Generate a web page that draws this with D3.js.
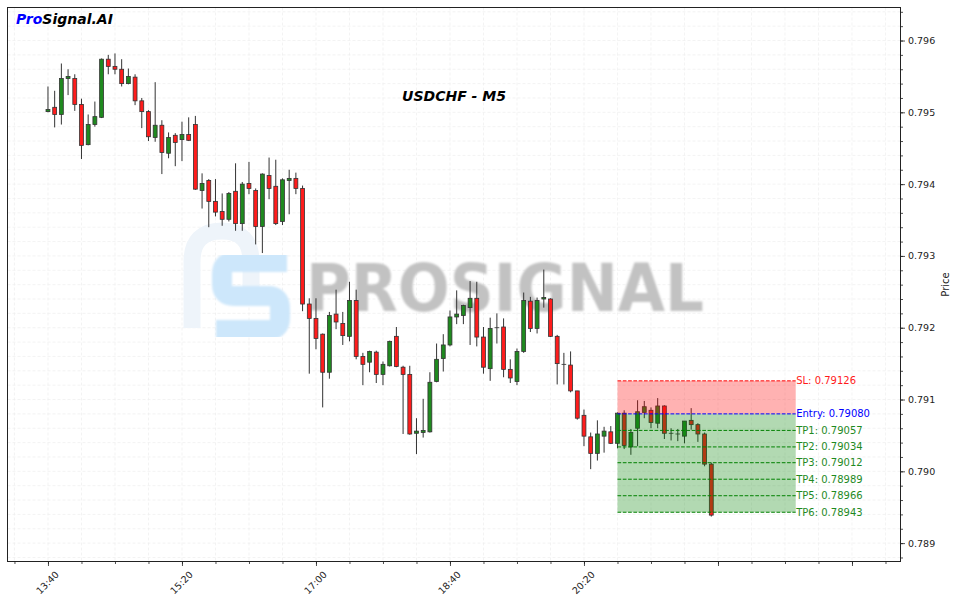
<!DOCTYPE html>
<html>
<head>
<meta charset="utf-8">
<script src="https://cdn.jsdelivr.net/npm/d3@7"></script>
<style>
  body { margin: 0; background: #fff; }
  svg { display: block; font-family: "DejaVu Sans", sans-serif; }
</style>
</head>
<body>
<svg id="chart" width="956" height="603"></svg>
<script>
// USDCHF M5 candles, first candle at 13:40, one every 5 minutes
const opens = [
  0.79501, 0.79507, 0.79497, 0.79547, 0.79547, 0.79511, 0.79455, 0.79483, 0.79493, 0.79574,
  0.79564, 0.79560, 0.79540, 0.79549, 0.79516, 0.79501, 0.79465, 0.79482, 0.79443, 0.79468,
  0.79462, 0.79469, 0.79483, 0.79391, 0.79405, 0.79376, 0.79362, 0.79351, 0.79390, 0.79345,
  0.79401, 0.79391, 0.79341, 0.79412, 0.79397, 0.79348, 0.79405, 0.79408, 0.79394, 0.79233,
  0.79213, 0.79191, 0.79138, 0.79219, 0.79206, 0.79188, 0.79238, 0.79160, 0.79152, 0.79166,
  0.79135, 0.79147, 0.79188, 0.79145, 0.79135, 0.79053, 0.79054, 0.79055, 0.79125, 0.79157,
  0.79176, 0.79215, 0.79217, 0.79228, 0.79241, 0.79187, 0.79143, 0.79200, 0.79201, 0.79142,
  0.79125, 0.79167, 0.79237, 0.79199, 0.79240, 0.79240, 0.79188, 0.79149, 0.79148, 0.79112,
  0.79078, 0.79048, 0.79025, 0.79049, 0.79055, 0.79039, 0.79081, 0.79034, 0.79060, 0.79082,
  0.79085, 0.79067, 0.79091, 0.79053, 0.79052, 0.79049, 0.79071, 0.79065, 0.79052, 0.79010
];
const highs = [
  0.79536, 0.79530, 0.79568, 0.79560, 0.79553, 0.79519, 0.79497, 0.79515, 0.79575, 0.79580,
  0.79582, 0.79574, 0.79561, 0.79553, 0.79520, 0.79503, 0.79542, 0.79489, 0.79472, 0.79471,
  0.79487, 0.79493, 0.79495, 0.79415, 0.79407, 0.79407, 0.79387, 0.79389, 0.79429, 0.79403,
  0.79431, 0.79394, 0.79415, 0.79437, 0.79434, 0.79408, 0.79420, 0.79416, 0.79398, 0.79241,
  0.79241, 0.79192, 0.79222, 0.79253, 0.79222, 0.79264, 0.79253, 0.79165, 0.79168, 0.79168,
  0.79153, 0.79182, 0.79201, 0.79147, 0.79147, 0.79074, 0.79101, 0.79138, 0.79178, 0.79191,
  0.79224, 0.79252, 0.79232, 0.79265, 0.79264, 0.79201, 0.79214, 0.79220, 0.79213, 0.79156,
  0.79171, 0.79249, 0.79243, 0.79242, 0.79281, 0.79241, 0.79190, 0.79165, 0.79167, 0.79112,
  0.79086, 0.79054, 0.79071, 0.79062, 0.79063, 0.79082, 0.79085, 0.79059, 0.79099, 0.79098,
  0.79089, 0.79102, 0.79092, 0.79060, 0.79059, 0.79070, 0.79088, 0.79067, 0.79054, 0.79012
];
const lows = [
  0.79500, 0.79479, 0.79483, 0.79524, 0.79502, 0.79435, 0.79454, 0.79480, 0.79492, 0.79553,
  0.79553, 0.79536, 0.79539, 0.79510, 0.79478, 0.79460, 0.79459, 0.79414, 0.79436, 0.79425,
  0.79432, 0.79460, 0.79392, 0.79366, 0.79340, 0.79355, 0.79342, 0.79348, 0.79335, 0.79335,
  0.79386, 0.79316, 0.79304, 0.79379, 0.79343, 0.79343, 0.79358, 0.79386, 0.79223, 0.79136,
  0.79170, 0.79089, 0.79129, 0.79198, 0.79176, 0.79181, 0.79156, 0.79120, 0.79138, 0.79123,
  0.79120, 0.79146, 0.79145, 0.79052, 0.79051, 0.79024, 0.79047, 0.79054, 0.79124, 0.79139,
  0.79174, 0.79205, 0.79205, 0.79176, 0.79174, 0.79136, 0.79126, 0.79178, 0.79131, 0.79123,
  0.79120, 0.79165, 0.79194, 0.79192, 0.79228, 0.79187, 0.79121, 0.79121, 0.79110, 0.79072,
  0.79035, 0.79003, 0.79015, 0.79026, 0.79038, 0.79032, 0.79031, 0.79023, 0.79035, 0.79074,
  0.79060, 0.79060, 0.79045, 0.79043, 0.79042, 0.79039, 0.79058, 0.79041, 0.79007, 0.78937
];
const closes = [
  0.79504, 0.79497, 0.79547, 0.79550, 0.79511, 0.79454, 0.79483, 0.79494, 0.79574, 0.79564,
  0.79560, 0.79540, 0.79550, 0.79516, 0.79501, 0.79466, 0.79482, 0.79444, 0.79465, 0.79458,
  0.79469, 0.79461, 0.79393, 0.79401, 0.79376, 0.79361, 0.79351, 0.79387, 0.79345, 0.79400,
  0.79394, 0.79341, 0.79414, 0.79394, 0.79345, 0.79406, 0.79408, 0.79394, 0.79233, 0.79213,
  0.79185, 0.79138, 0.79217, 0.79208, 0.79189, 0.79238, 0.79160, 0.79149, 0.79167, 0.79135,
  0.79149, 0.79181, 0.79146, 0.79135, 0.79052, 0.79056, 0.79057, 0.79124, 0.79156, 0.79176,
  0.79215, 0.79219, 0.79231, 0.79241, 0.79187, 0.79145, 0.79199, 0.79200, 0.79142, 0.79130,
  0.79167, 0.79238, 0.79199, 0.79238, 0.79242, 0.79188, 0.79150, 0.79149, 0.79112, 0.79074,
  0.79049, 0.79025, 0.79052, 0.79056, 0.79039, 0.79081, 0.79036, 0.79054, 0.79083, 0.79090,
  0.79068, 0.79091, 0.79053, 0.79053, 0.79052, 0.79070, 0.79065, 0.79052, 0.79010, 0.78939
];

// x ticks (candle index), every 20 candles = 100 minutes
const xMajorTicks = [0, 20, 40, 60, 80, 100, 120];
const xTickLabels = ["13:40", "15:20", "17:00", "18:40", "20:20", "", ""];
const yMajorTicks = [0.789, 0.790, 0.791, 0.792, 0.793, 0.794, 0.795, 0.796];

// signal levels
const levelNames = ["SL", "Entry", "TP1", "TP2", "TP3", "TP4", "TP5", "TP6"];
const levelValues = [0.79126, 0.79080, 0.79057, 0.79034, 0.79012, 0.78989, 0.78966, 0.78943];
const signalStart = 85;    // candle index of the entry
const signalEnd = 111.6;   // where the zone stops on the time axis

const candles = opens.map((o, i) => ({
  i: i, open: o, high: highs[i], low: lows[i], close: closes[i]
}));

const svg = d3.select("#chart");
const W = 956, H = 603;
const plot = { left: 7.5, right: 900.5, top: 7.5, bottom: 561.5 };

svg.append("rect").attr("width", W).attr("height", H).attr("fill", "#fff");

const x = d3.scaleLinear().domain([-6.04, 127.24]).range([plot.left, plot.right]);
const y = d3.scaleLinear().domain([0.788744, 0.79646]).range([plot.bottom, plot.top]);
const step = x(1) - x(0);

const defs = svg.append("defs");
defs.append("clipPath").attr("id", "clip")
  .append("rect")
  .attr("x", plot.left).attr("y", plot.top)
  .attr("width", plot.right - plot.left).attr("height", plot.bottom - plot.top);
defs.append("filter").attr("id", "soft")
  .append("feGaussianBlur").attr("stdDeviation", 0.9);

// grid (major + minor), very faint
const xMinor = d3.range(-5, 127, 5);
const yMinor = d3.range(3944, 3983).map(k => k * 0.0002);
const grid = svg.append("g").attr("clip-path", "url(#clip)");
grid.selectAll(".gx").data(xMinor).enter().append("line")
  .attr("x1", d => x(d)).attr("x2", d => x(d))
  .attr("y1", plot.top).attr("y2", plot.bottom)
  .attr("stroke", "#eeeeee").attr("stroke-width", 0.7)
  .attr("stroke-dasharray", "3,2");
grid.selectAll(".gy").data(yMinor).enter().append("line")
  .attr("x1", plot.left).attr("x2", plot.right)
  .attr("y1", d => y(d)).attr("y2", d => y(d))
  .attr("stroke", "#eeeeee").attr("stroke-width", 0.7)
  .attr("stroke-dasharray", "3,2");

// watermark
const wm = svg.append("g").attr("clip-path", "url(#clip)");
wm.append("path")
  .attr("d", "M192 328 L192 262 Q192 231 222 231 Q251 231 251 262 L251 292")
  .attr("fill", "none").attr("stroke", "#eef4fa").attr("stroke-width", 17);
wm.append("path")
  .attr("d", "M287 262 L233 262 Q222 262 222 274 L222 284 Q222 296 234 296 L268 296 Q280 296 280 308 L280 318 Q280 330 268 330 L216 330")
  .attr("fill", "none").attr("stroke", "#cde7fb").attr("stroke-width", 20)
  .attr("filter", "url(#soft)");
wm.append("text")
  .attr("x", 306).attr("y", 311)
  .attr("font-size", 66).attr("font-weight", "bold")
  .attr("textLength", 398).attr("lengthAdjust", "spacingAndGlyphs")
  .attr("fill", "#c2c2c2").attr("filter", "url(#soft)")
  .text("PROSIGNAL");

// candles
const candleG = svg.append("g").attr("clip-path", "url(#clip)");
const bodyW = step * 0.58;
candleG.selectAll(".wick").data(candles).enter().append("line")
  .attr("x1", d => x(d.i)).attr("x2", d => x(d.i))
  .attr("y1", d => y(d.high)).attr("y2", d => y(d.low))
  .attr("stroke", "#333").attr("stroke-width", 1);
candleG.selectAll(".body").data(candles).enter().append("rect")
  .attr("x", d => x(d.i) - bodyW / 2)
  .attr("width", bodyW)
  .attr("y", d => y(Math.max(d.open, d.close)))
  .attr("height", d => Math.max(0.01, Math.abs(y(d.open) - y(d.close))))
  .attr("fill", d => d.close >= d.open ? "#1f8a1f" : "#ff1c1c")
  .attr("stroke", "#333").attr("stroke-width", 0.8);

// signal zones, drawn over the candles
const zone = svg.append("g");
zone.append("rect")
  .attr("x", x(signalStart)).attr("width", x(signalEnd) - x(signalStart))
  .attr("y", y(levelValues[0])).attr("height", y(levelValues[1]) - y(levelValues[0]))
  .attr("fill", "red").attr("opacity", 0.3);
zone.append("rect")
  .attr("x", x(signalStart)).attr("width", x(signalEnd) - x(signalStart))
  .attr("y", y(levelValues[1])).attr("height", y(levelValues[7]) - y(levelValues[1]))
  .attr("fill", "green").attr("opacity", 0.3);

const levelColor = (name) => name === "SL" ? "#ff1a1a" : name === "Entry" ? "#0000ff" : "#1f8a1f";
const lineColor = (name) => name === "SL" ? "#ff0000" : name === "Entry" ? "#0000ff" : "#008000";

levelValues.forEach((v, k) => {
  const name = levelNames[k];
  zone.append("line")
    .attr("x1", x(signalStart)).attr("x2", x(signalEnd))
    .attr("y1", y(v)).attr("y2", y(v))
    .attr("stroke", lineColor(name)).attr("stroke-width", 1)
    .attr("stroke-dasharray", "3.7,1.6");
  zone.append("text")
    .attr("x", x(signalEnd) + 0.5).attr("y", y(v))
    .attr("dominant-baseline", "central")
    .attr("font-size", 10)
    .attr("fill", levelColor(name))
    .text(`${name}: ${v.toFixed(5)}`);
});

// frame
svg.append("rect")
  .attr("x", plot.left).attr("y", plot.top)
  .attr("width", plot.right - plot.left).attr("height", plot.bottom - plot.top)
  .attr("fill", "none").attr("stroke", "#222").attr("stroke-width", 1);

// right price axis
const yAxisMinor = svg.append("g")
  .attr("transform", `translate(${plot.right},0)`)
  .call(d3.axisRight(y).tickValues(yMinor).tickSize(2.5).tickFormat(""));
const yAxis = svg.append("g")
  .attr("transform", `translate(${plot.right},0)`)
  .call(d3.axisRight(y).tickValues(yMajorTicks).tickSize(4.5).tickPadding(3)
    .tickFormat(d3.format(".3f")));

// bottom time axis
const xAxisMinor = svg.append("g")
  .attr("transform", `translate(0,${plot.bottom})`)
  .call(d3.axisBottom(x).tickValues(xMinor).tickSize(2.5).tickFormat(""));
const xAxis = svg.append("g")
  .attr("transform", `translate(0,${plot.bottom})`)
  .call(d3.axisBottom(x).tickValues(xMajorTicks).tickSize(4.5)
    .tickFormat((d, i) => xTickLabels[i]));

[yAxisMinor, yAxis, xAxisMinor, xAxis].forEach(a => {
  a.select(".domain").remove();
  a.selectAll("line").attr("stroke", "#222").attr("stroke-width", 0.8);
  a.selectAll("text").attr("font-family", "DejaVu Sans").attr("font-size", 9.5).attr("fill", "#222");
});
xAxis.selectAll("text")
  .attr("y", 0).attr("dy", null)
  .attr("text-anchor", "middle")
  .attr("dominant-baseline", "central")
  .attr("transform", "translate(-1,21) rotate(-45)");

svg.append("text")
  .attr("transform", `translate(945,${(plot.top + plot.bottom) / 2}) rotate(-90)`)
  .attr("text-anchor", "middle").attr("dominant-baseline", "central")
  .attr("font-size", 10).attr("fill", "#222")
  .text("Price");

// title and brand
svg.append("text")
  .attr("x", 454).attr("y", 101)
  .attr("text-anchor", "middle")
  .attr("font-size", 14).attr("font-weight", "bold").attr("font-style", "italic")
  .attr("fill", "#000")
  .text("USDCHF - M5");

const brand = svg.append("text")
  .attr("x", 16).attr("y", 24)
  .attr("font-size", 14).attr("font-weight", "bold").attr("font-style", "italic");
brand.append("tspan").attr("fill", "#0000ff").text("Pro");
brand.append("tspan").attr("fill", "#000").text("Signal.AI");
</script>
</body>
</html>
